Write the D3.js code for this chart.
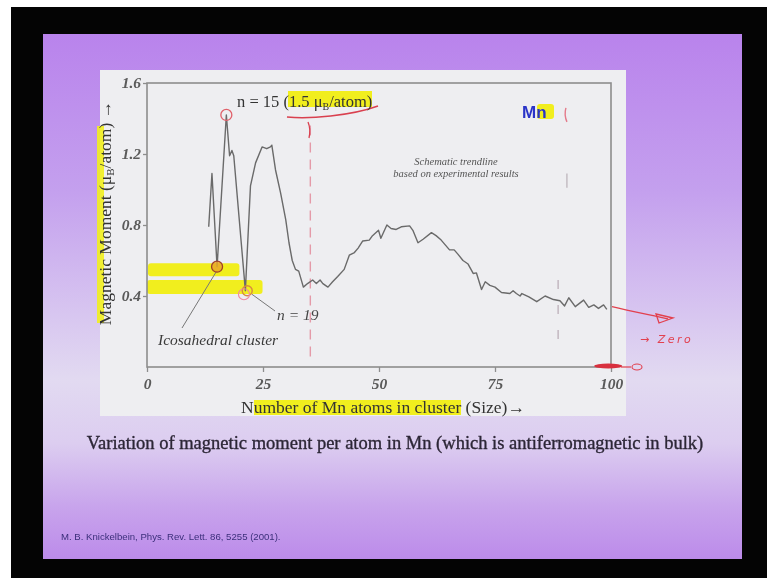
<!DOCTYPE html>
<html>
<head>
<meta charset="utf-8">
<script src="https://cdn.jsdelivr.net/npm/d3@7"></script>
<style>
  html, body { margin: 0; padding: 0; background: #fff; }
  svg { display: block; }
  .serif { font-family: "Liberation Serif", "Times New Roman", serif; }
</style>
</head>
<body>
<script>
// magnetic moment per atom vs cluster size
var sizes = [13.3, 14.0, 15.1, 17.1, 17.8, 18.3, 18.7, 21.2, 22.3, 23.4, 24.8, 25.8, 26.6, 26.9,
  27.7, 28.8, 29.9, 30.6, 31.3, 32.0, 32.7, 33.7, 34.6, 35.7, 36.5, 37.3, 37.9, 39.0, 40.0,
  41.1, 42.5, 43.6, 44.7, 45.5, 46.5, 47.9, 48.6, 49.9, 50.4, 51.7, 52.6, 53.7, 54.8, 56.6,
  57.3, 58.4, 59.5, 61.3, 62.3, 63.4, 65.2, 66.2, 67.0, 68.1, 69.2, 70.3, 71.0, 72.1, 72.9,
  73.9, 75.0, 76.4, 78.2, 78.9, 79.6, 80.4, 80.8, 82.3, 84.0, 85.8, 87.6, 89.0, 90.0, 90.9,
  92.3, 94.1, 95.2, 96.3, 97.3, 98.4, 99.1];
var moments = [0.79, 1.09, 0.565, 1.42, 1.19, 1.22, 1.19, 0.43, 1.02, 1.15, 1.24, 1.23, 1.24, 1.25,
  1.11, 0.98, 0.83, 0.70, 0.60, 0.55, 0.54, 0.45, 0.47, 0.49, 0.47, 0.49, 0.47, 0.45, 0.48,
  0.51, 0.55, 0.63, 0.645, 0.67, 0.71, 0.715, 0.74, 0.77, 0.725, 0.80, 0.78, 0.775, 0.79, 0.795,
  0.77, 0.70, 0.72, 0.757, 0.74, 0.715, 0.66, 0.66, 0.636, 0.60, 0.58, 0.527, 0.53, 0.437, 0.48,
  0.46, 0.45, 0.42, 0.414, 0.43, 0.414, 0.40, 0.414, 0.395, 0.368, 0.40, 0.38, 0.373, 0.344, 0.39,
  0.34, 0.377, 0.336, 0.35, 0.33, 0.35, 0.325];

var xTicks = [0, 25, 50, 75, 100];
var yTicks = [0.4, 0.8, 1.2, 1.6];

var W = 767, H = 578;

var svg = d3.select('body').append('svg')
  .attr('width', W)
  .attr('height', H)
  .style('filter', 'blur(0.35px)');

var defs = svg.append('defs');
var grad = defs.append('linearGradient')
  .attr('id', 'slideGrad')
  .attr('x1', 0).attr('y1', 0).attr('x2', 0).attr('y2', 1);
[[0, '#b983ec'], [0.3, '#c4a0ee'], [0.66, '#e2daf1'], [0.78, '#dccdf0'],
 [0.9, '#c8a4ec'], [1, '#bc8bea']].forEach(function(s){
  grad.append('stop').attr('offset', s[0]).attr('stop-color', s[1]);
});

// frame of the photo: black screen, slide
svg.append('rect').attr('x', 11).attr('y', 7).attr('width', W - 11).attr('height', H - 7)
  .attr('fill', '#040404');
svg.append('rect').attr('x', 43).attr('y', 34).attr('width', 699).attr('height', 525)
  .attr('fill', 'url(#slideGrad)');
// white picture panel
svg.append('rect').attr('x', 100).attr('y', 70).attr('width', 526).attr('height', 346)
  .attr('fill', '#eeeef1');

var x = d3.scaleLinear().domain([0, 100]).range([147, 611]);
var y = d3.scaleLinear().domain([0, 1.6]).range([367, 83]);

var hl = '#f1ee1e';
var g = svg.append('g');

// highlighter strokes
g.append('rect').attr('x', x(0) + 1).attr('y', y(0.585)).attr('width', x(19.7) - x(0))
  .attr('height', 13).attr('fill', hl).attr('rx', 3);
g.append('rect').attr('x', x(0)).attr('y', y(0.49)).attr('width', x(24.9) - x(0))
  .attr('height', 14).attr('fill', hl).attr('rx', 3);
g.append('rect').attr('x', 97).attr('y', 126).attr('width', 7).attr('height', 197)
  .attr('fill', hl).attr('opacity', 0.9);
g.append('rect').attr('x', 288).attr('y', 91).attr('width', 84).attr('height', 16)
  .attr('fill', hl);
g.append('rect').attr('x', 254).attr('y', 400).attr('width', 207).attr('height', 15)
  .attr('fill', hl);
g.append('rect').attr('x', 537).attr('y', 104).attr('width', 17).attr('height', 15)
  .attr('fill', hl).attr('rx', 3);

// plot box
g.append('rect').attr('x', x(0)).attr('y', y(1.6))
  .attr('width', x(100) - x(0)).attr('height', y(0) - y(1.6))
  .attr('fill', 'none').attr('stroke', '#8d8d8d').attr('stroke-width', 1.6);

// axes
var xAxis = g.append('g').attr('transform', 'translate(0,' + y(0) + ')')
  .call(d3.axisBottom(x).tickValues(xTicks).tickSize(5).tickPadding(6));
var yAxis = g.append('g').attr('transform', 'translate(' + x(0) + ',0)')
  .call(d3.axisLeft(y).tickValues(yTicks).tickSize(4).tickPadding(2)
    .tickFormat(d3.format('.1f')));
[xAxis, yAxis].forEach(function(a){
  a.select('.domain').remove();
  a.selectAll('line').attr('stroke', '#8d8d8d').attr('stroke-width', 1.3);
  a.selectAll('text')
    .attr('class', 'serif')
    .style('font-size', '15.5px')
    .style('font-style', 'italic')
    .style('font-weight', 'bold')
    .attr('fill', '#5a5a5a');
});
yAxis.selectAll('text').attr('dy', '0.32em');

// dashed marks drawn on the slide
g.append('line').attr('x1', x(35.2)).attr('x2', x(35.2))
  .attr('y1', y(1.36)).attr('y2', y(0.02))
  .attr('stroke', '#e49aa8').attr('stroke-width', 1.4).attr('stroke-dasharray', '10,7');
g.append('line').attr('x1', x(88.6)).attr('x2', x(88.6))
  .attr('y1', y(0.49)).attr('y2', y(0.07))
  .attr('stroke', '#b9aab4').attr('stroke-width', 1.2).attr('stroke-dasharray', '9,16');
g.append('line').attr('x1', x(90.5)).attr('x2', x(90.5))
  .attr('y1', y(1.09)).attr('y2', y(1.01))
  .attr('stroke', '#b9b0b8').attr('stroke-width', 1.2);
g.append('path')
  .attr('d', 'M' + (x(90.5) - 1) + ',' + y(1.46) + 'q-2,7 1,14')
  .attr('fill', 'none').attr('stroke', '#e47a8a').attr('stroke-width', 1.4);

// the trendline
var line = d3.line().x(function(d){ return x(d[0]); }).y(function(d){ return y(d[1]); });
g.append('path')
  .datum(d3.zip(sizes, moments))
  .attr('d', line)
  .attr('fill', 'none')
  .attr('stroke', '#6a6a6a')
  .attr('stroke-width', 1.4)
  .attr('stroke-linejoin', 'round');

// leader lines
g.append('line').attr('x1', x(15.0)).attr('y1', y(0.54)).attr('x2', 182).attr('y2', 328)
  .attr('stroke', '#777').attr('stroke-width', 1);
g.append('line').attr('x1', x(22.6)).attr('y1', y(0.41)).attr('x2', 275).attr('y2', 311)
  .attr('stroke', '#777').attr('stroke-width', 1);

// circled points
g.append('circle').attr('cx', x(17.1)).attr('cy', y(1.42)).attr('r', 5.5)
  .attr('fill', 'none').attr('stroke', '#e0606a').attr('stroke-width', 1.3);
g.append('circle').attr('cx', x(15.1)).attr('cy', y(0.565)).attr('r', 5.5)
  .attr('fill', '#e9a828').attr('fill-opacity', 0.85)
  .attr('stroke', '#a0402a').attr('stroke-width', 1.3);
g.append('circle').attr('cx', x(21.6)).attr('cy', y(0.43)).attr('r', 5)
  .attr('fill', 'none').attr('stroke', '#d98a40').attr('stroke-width', 1.4);
g.append('circle').attr('cx', x(20.9)).attr('cy', y(0.41)).attr('r', 5.5)
  .attr('fill', 'none').attr('stroke', '#f08aa0').attr('stroke-width', 1.2);

// red underline and hook under the n = 15 label
g.append('path')
  .attr('d', 'M287,117 C310,119 350,116 378,106')
  .attr('fill', 'none').attr('stroke', '#d9404f').attr('stroke-width', 1.5);
g.append('path')
  .attr('d', 'M308,122 q3,7 1,16')
  .attr('fill', 'none').attr('stroke', '#d9404f').attr('stroke-width', 1.3);

// texts inside the picture
var t15 = g.append('text').attr('class', 'serif').attr('x', 237).attr('y', 107)
  .style('font-size', '16.5px').attr('fill', '#333');
t15.append('tspan').text('n = 15 (1.5 μ');
t15.append('tspan').attr('dy', 3).style('font-size', '10px').text('B');
t15.append('tspan').attr('dy', -3).text('/atom)');

g.append('text').attr('class', 'serif').attr('x', 277).attr('y', 320)
  .style('font-size', '15.5px').style('font-style', 'italic').attr('fill', '#444')
  .text('n = 19');
g.append('text').attr('class', 'serif').attr('x', 158).attr('y', 345)
  .style('font-size', '15.5px').style('font-style', 'italic').attr('fill', '#3a3a3a')
  .text('Icosahedral cluster');

g.append('text').attr('class', 'serif').attr('x', 456).attr('y', 165)
  .attr('text-anchor', 'middle').style('font-size', '10.5px').style('font-style', 'italic')
  .attr('fill', '#555').text('Schematic trendline');
g.append('text').attr('class', 'serif').attr('x', 456).attr('y', 177)
  .attr('text-anchor', 'middle').style('font-size', '10.5px').style('font-style', 'italic')
  .attr('fill', '#555').text('based on experimental results');

g.append('text').attr('x', 522).attr('y', 118)
  .style('font-family', '"Liberation Sans", Arial, sans-serif')
  .style('font-size', '17px').style('font-weight', 'bold')
  .attr('fill', '#2a34c8').text('Mn');

// axis titles
var yt = g.append('text').attr('class', 'serif')
  .attr('transform', 'translate(111,213) rotate(-90)')
  .attr('text-anchor', 'middle').style('font-size', '17.5px').attr('fill', '#333');
yt.append('tspan').text('Magnetic Moment (μ');
yt.append('tspan').attr('dy', 3).style('font-size', '11px').text('B');
yt.append('tspan').attr('dy', -3).text('/atom) →');

g.append('text').attr('class', 'serif').attr('x', 383).attr('y', 413)
  .attr('text-anchor', 'middle').style('font-size', '17.5px').attr('fill', '#333')
  .text('Number of Mn atoms in cluster (Size)→');

// red ink on the right of the picture
var red = '#e2404e';
g.append('path').attr('d', 'M' + (x(100) + 1) + ',' + y(0.34) + ' C630,311 650,315 668,319')
  .attr('fill', 'none').attr('stroke', red).attr('stroke-width', 1.3);
g.append('path').attr('d', 'M656,314 L673,318 L659,323 Z')
  .attr('fill', 'none').attr('stroke', red).attr('stroke-width', 1.3);
g.append('text').attr('x', 640).attr('y', 343)
  .style('font-family', '"DejaVu Sans", sans-serif').style('font-size', '11px')
  .style('font-style', 'italic').style('letter-spacing', '2.5px')
  .attr('fill', red).text('→ Zero');
g.append('ellipse').attr('cx', x(99.4)).attr('cy', y(0) - 1).attr('rx', 14).attr('ry', 2.5)
  .attr('fill', '#d8303e');
g.append('line').attr('x1', x(100) + 10).attr('x2', 631).attr('y1', y(0)).attr('y2', y(0))
  .attr('stroke', red).attr('stroke-width', 1.2);
g.append('ellipse').attr('cx', 637).attr('cy', y(0)).attr('rx', 5).attr('ry', 3)
  .attr('fill', 'none').attr('stroke', red).attr('stroke-width', 1.1);

// slide caption and reference
svg.append('text').attr('class', 'serif').attr('x', 395).attr('y', 449)
  .attr('text-anchor', 'middle').style('font-size', '18.5px')
  .attr('fill', '#2c2636').attr('stroke', '#2c2636').attr('stroke-width', 0.35)
  .text('Variation of magnetic moment per atom in Mn (which is antiferromagnetic in bulk)');
svg.append('text').attr('x', 61).attr('y', 540)
  .style('font-family', '"Liberation Sans", Arial, sans-serif').style('font-size', '9.6px')
  .attr('fill', '#3b2f7a')
  .text('M. B. Knickelbein, Phys. Rev. Lett. 86, 5255 (2001).');
</script>
</body>
</html>
